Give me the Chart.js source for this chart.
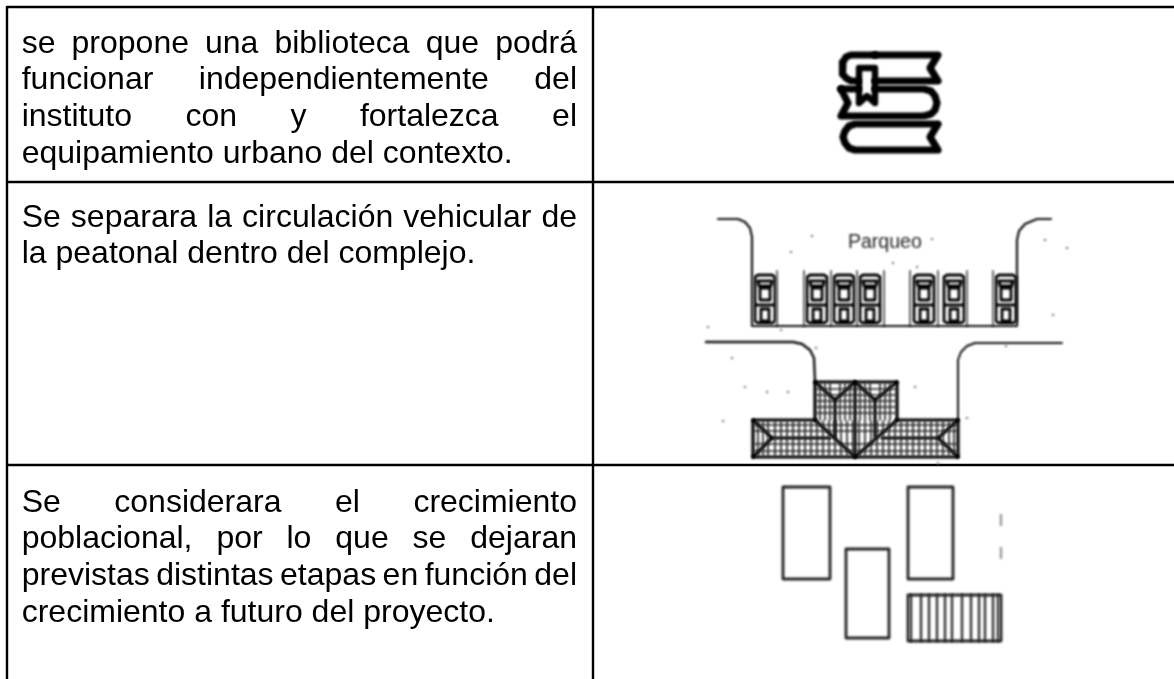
<!DOCTYPE html>
<html><head><meta charset="utf-8">
<style>html,body{margin:0;padding:0;background:#fff;overflow:hidden}canvas{display:block}</style>
<script src="https://cdn.jsdelivr.net/npm/chart.js@4/dist/chart.umd.js"></script>
</head><body><canvas id="c" width="1174" height="679"></canvas>
<script>
// ---- table
const tableVerticalX = [7, 593];
const tableRowY = [7, 182, 465];
const tableRight = 1174, tableBottom = 679;
// ---- cell text
const cellText1 = ["se propone una biblioteca que podrá","funcionar independientemente del","instituto con y fortalezca el","equipamiento urbano del contexto."];
const cellText2 = ["Se separara la circulación vehicular de","la peatonal dentro del complejo."];
const cellText3 = ["Se considerara el crecimiento","poblacional, por lo que se dejaran","previstas distintas etapas en función del","crecimiento a futuro del proyecto."];
const cellBaseY1 = [52.5,89.3,126.1,163];
const cellBaseY2 = [226.5,263.3];
const cellBaseY3 = [511.5,548.3,585.1,622];
const cellJustified1 = [true,true,true,false];
const cellJustified2 = [true,false];
const cellJustified3 = [true,true,true,false];
// ---- book pictogram
const bookTop = [[875,55],[938,55],[930,68],[938,81],[875,81]];
const bookTopSpine = [[875,55],[851,55],[846,57],[843,62],[842,68],[843,74],[846,78],[851,81],[858,81]];
const bookMidA = [[841,89],[858,89]];
const bookMidB = [[875,89],[924,89],[931,91],[935,96],[937,103],[935,110],[931,114],[924,116],[841,116],[848,103],[841,89]];
const bookBottom = [[938,124],[855,124],[849,126],[845,131],[843,137],[845,143],[849,148],[855,150],[938,150],[930,137],[938,124]];
const bookmark = [[859,103],[859,68],[875,68],[875,103],[867,96],[859,103]];
// ---- parking
const curbLeft = [[718,219],[738,219],[745,222],[750,228],[752,237],[752,326],[1017,326],[1017,240],[1019,231],[1025,224],[1037,219],[1051,219]];
const roadLeft = [[706,342],[793,342],[802,344],[810,350],[814,358],[815,381]];
const roadRight = [[958,420],[958,360],[961,352],[967,346],[975,343],[1062,343]];
const stallLineX = [777,804,831,857,884,910,938,967,993];
const stallTop = 271, stallBottom = 326;
const carLeftX = [754,806,833,859,913,943,995];
const carTopY = 274;
const carOutline = [[1,3],[4,1],[18,1],[21,3],[21,47],[18,49],[4,49],[1,47],[1,3]];
const carScreen = [[4,7],[18,7],[17,12],[5,12],[4,7]];
const carCabin = [[6,14],[16,14],[16,26],[6,26],[6,14]];
const carBar = [[3,31],[19,31]];
const carRear = [[7,35],[15,35],[15,47],[7,47],[7,35]];
const specks = [[812,236],[791,252],[893,263],[917,267],[932,239],[781,330],[816,348],[732,358],[708,327],[767,392],[788,392],[745,387],[723,421],[915,387],[967,418],[938,463],[1045,240],[1067,248],[1053,315],[1006,346]];
// ---- building
const roofUpper = [[815,420],[815,382],[897,382],[897,420]];
const roofLower = [[815,420],[753,420],[753,457],[958,457],[958,420],[897,420]];
const roofValleyTop = [[815,382],[835,400],[855,382],[875,400],[897,382]];
const roofCentre = [[855,382],[855,457]];
const roofStemL = [[835,400],[835,437]];
const roofStemR = [[875,400],[875,437]];
const roofDiag = [[815,420],[855,457],[897,420]];
const roofHipL = [[753,420],[772,438],[753,457]];
const roofHipR = [[958,420],[938,438],[958,457]];
const roofRidgeL = [[772,438],[830,438]];
const roofRidgeR = [[938,438],[882,438]];
const hatchUpperX = [820,825,830,840,845,850,860,865,870,880,885,890];
const hatchUpperY = [389,395,401,407,413];
const hatchLowerX = [758,763,768,775,781,787,793,799,805,811,817,823,829,835,841,847,853,859,865,871,877,883,889,895,901,907,913,919,925,931,937,943,949,954];
const hatchLowerY = [425,431,444,451];
// ---- future-growth blocks
const block1 = [[783,487],[830,487],[830,579],[783,579],[783,487]];
const block2 = [[846,549],[889,549],[889,638],[846,638],[846,549]];
const block3 = [[908,487],[953,487],[953,579],[908,579],[908,487]];
const block4 = [[908,595],[1001,595],[1001,641],[908,641],[908,595]];
const block4StripeX = [911,921,929,937,945,952,962,971,979,985,993,998];
const block4Top = 595, block4Bottom = 641;
const sideTicks = [[[1001,515],[1001,525]],[[1001,548],[1001,558]]];

const pts = a => a.map(p => ({x:p[0], y:p[1]}));
const segs = list => { const o=[]; list.forEach(s=>{o.push(...pts(s)); o.push({x:null,y:null});}); return o; };
const line = (a,color,w,extra) => Object.assign({data:a,borderColor:color,borderWidth:w,showLine:true,pointRadius:0,fill:false,tension:0,spanGaps:false,borderJoinStyle:'round',borderCapStyle:'round',soft:0.8},extra||{});

const ds = [];
const hatch = [];
hatchUpperX.forEach(x=>hatch.push([[x,383],[x,420]]));
hatchUpperY.forEach(y=>hatch.push([[816,y],[896,y]]));
hatchLowerX.forEach(x=>hatch.push([[x,421],[x,456]]));
hatchLowerY.forEach(y=>hatch.push([[754,y],[957,y]]));
ds.push(line(segs(hatch),'#222',1.7));
[roofUpper,roofLower,roofValleyTop,roofCentre,roofStemL,roofStemR,roofDiag,roofHipL,roofHipR,roofRidgeL,roofRidgeR].forEach(s=>ds.push(line(pts(s),'#000',3.2)));
ds.push(line(pts(curbLeft),'#111',2.2));
ds.push(line(pts(roadLeft),'#111',2.4));
ds.push(line(pts(roadRight),'#111',2));
ds.push(line(segs(stallLineX.map(x=>[[x,stallTop],[x,stallBottom]])),'#555',1.8));
carLeftX.forEach(cx=>{
  const off = s => s.map(p=>[p[0]+cx,p[1]+carTopY]);
  ds.push(line(segs([carOutline,carScreen,carCabin,carBar,carRear].map(off)),'#000',2.8));
});
ds.push({data:pts(specks),pointRadius:1.3,pointBackgroundColor:'#888',pointBorderWidth:0,showLine:false,soft:0.8});
[bookTop,bookTopSpine,bookMidA,bookMidB,bookBottom].forEach(s=>ds.push(line(pts(s),'#000',7.2,{soft:0.8})));
ds.push(line(pts(bookmark),'#000',6.4,{soft:0.8}));
[block1,block2,block3,block4].forEach(s=>ds.push(line(pts(s),'#222',2.8,{soft:0.9})));
ds.push(line(segs(block4StripeX.map(x=>[[x,block4Top],[x,block4Bottom]])),'#333',2.4,{soft:0.9}));
ds.push(line(segs(sideTicks),'#999',2.4,{soft:0.8}));
ds.push(line(segs([...tableVerticalX.map(x=>[[x,6],[x,tableBottom]]),...tableRowY.map(y=>[[tableVerticalX[0],y],[tableRight,y]])]),'#000',2.4,{soft:0,borderCapStyle:'butt',borderJoinStyle:'miter'}));

const softPlugin = {
  id:'soft',
  beforeDatasetDraw(chart,args){ const s=chart.data.datasets[args.index].soft; chart.ctx.save(); if(s) chart.ctx.filter='blur('+s+'px)'; },
  afterDatasetDraw(chart){ chart.ctx.restore(); }
};
const textPlugin = {
  id:'cellText',
  afterDraw(chart){
    const c=chart.ctx, L=21.7, R=577;
    const drawCell=(lines,ys,just)=>lines.forEach((t,i)=>{
      c.font='32px "Liberation Sans", Arial, sans-serif'; c.fillStyle='#000'; c.textBaseline='alphabetic'; c.textAlign='left';
      c.wordSpacing='0px';
      if(just[i]){ const w=c.measureText(t).width, n=t.split(' ').length-1; c.wordSpacing=((R-L-w)/n)+'px'; }
      c.fillText(t,L,ys[i]); c.wordSpacing='0px';
    });
    c.save();
    drawCell(cellText1,cellBaseY1,cellJustified1);
    drawCell(cellText2,cellBaseY2,cellJustified2);
    drawCell(cellText3,cellBaseY3,cellJustified3);
    c.font='19.5px "Liberation Sans", Arial, sans-serif'; c.fillStyle='#222'; c.filter='blur(0.8px)';
    c.fillText('Parqueo',848,248);
    c.restore();
  }
};
new Chart(document.getElementById('c'),{
  type:'scatter',
  data:{datasets:ds},
  options:{responsive:false,animation:false,devicePixelRatio:1,
    layout:{padding:0,autoPadding:false},
    plugins:{legend:{display:false},tooltip:{enabled:false},title:{display:false}},
    scales:{x:{type:'linear',min:0,max:1174,display:false},y:{type:'linear',min:0,max:679,reverse:true,display:false}},
    clip:false},
  plugins:[softPlugin,textPlugin]
});
</script></body></html>
